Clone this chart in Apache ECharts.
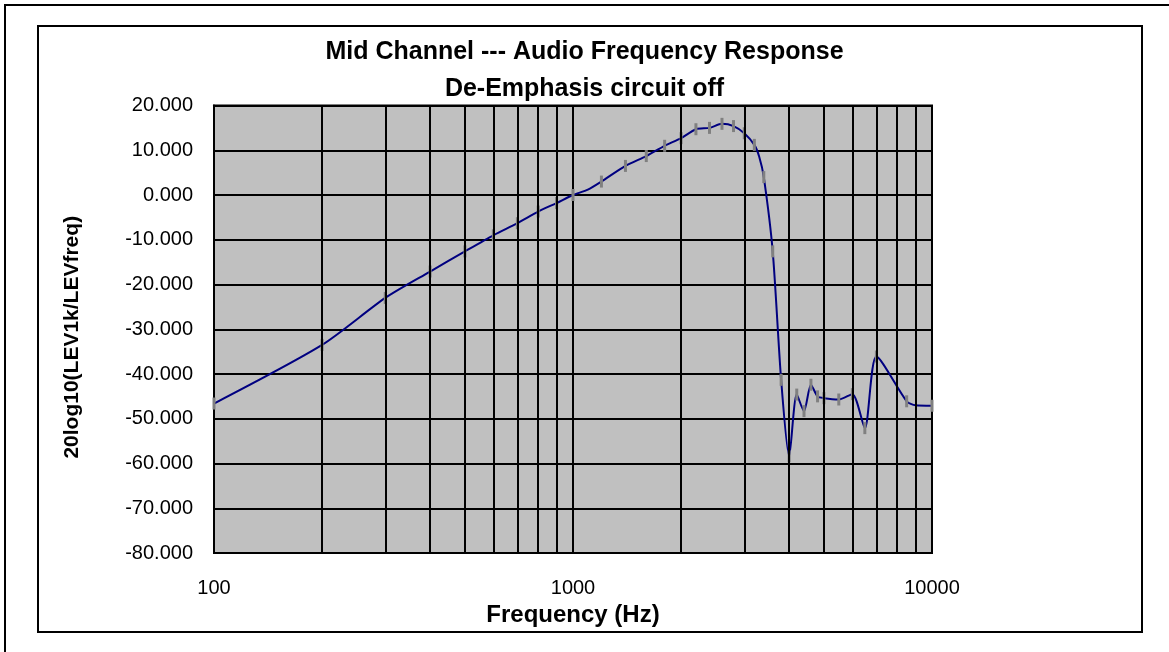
<!DOCTYPE html>
<html>
<head>
<meta charset="utf-8">
<script src="https://cdn.jsdelivr.net/npm/echarts@6/dist/echarts.min.js"></script>
<style>
html,body{margin:0;padding:0;background:#fff;}
#chart{width:1169px;height:652px;}
</style>
</head>
<body>
<div id="chart"></div>
<script>
const freqHz = [100, 200, 300, 400, 500, 600, 700, 800, 900, 1000, 1100, 1200, 1400, 1600, 1800, 2000, 2200, 2400, 2600, 2800, 3000, 3200, 3300, 3400, 3600, 3800, 4000, 4200, 4400, 4600, 4800, 5000, 5500, 6000, 6500, 7000, 8500, 9000, 10000];
const levelDb = [-46.6, -33.5, -23.0, -17.1, -12.6, -9.0, -6.3, -3.7, -1.8, 0.0, 1.2, 3.0, 6.5, 8.7, 11.0, 12.7, 14.7, 15.0, 15.9, 15.4, 13.8, 11.2, 8.6, 4.0, -12.6, -41.3, -58.4, -44.6, -48.3, -42.4, -45.0, -45.4, -45.7, -44.5, -52.1, -36.1, -46.1, -47.0, -47.1];
const hasMarker = [1,1,1,1,1,1,1,1,1,1,0,1,1,1,1,1,1,1,1,1,1,1,0,1,1,1,1,1,1,1,1,1,1,1,1,1,1,0,1];
const minorGridFreqs = [200, 300, 400, 500, 600, 700, 800, 900, 2000, 3000, 4000, 5000, 6000, 7000, 8000, 9000];
const yTicks = { min: -80, max: 20, interval: 10 };
const titleText = 'Mid Channel --- Audio Frequency Response\nDe-Emphasis circuit off';
const xName = 'Frequency (Hz)';
const yName = '20log10(LEV1k/LEVfreq)';

const FONT = '"Liberation Sans", Arial, sans-serif';
const chart = echarts.init(document.getElementById('chart'), null, { renderer: 'canvas' });
const points = freqHz.map((f, i) => [f, levelDb[i]]);

chart.setOption({
  animation: false,
  backgroundColor: '#ffffff',
  graphic: [
    { type: 'rect', shape: { x: 5, y: 5, width: 1300, height: 800 }, style: { fill: 'none', stroke: '#000', lineWidth: 2 }, silent: true, z: -10 },
    { type: 'rect', shape: { x: 38, y: 26, width: 1104, height: 606 }, style: { fill: 'none', stroke: '#000', lineWidth: 2 }, silent: true, z: -10 }
  ],
  title: {
    text: titleText,
    left: 'center',
    top: 29,
    textStyle: { fontFamily: FONT, fontSize: 25, fontWeight: 'bold', color: '#000', lineHeight: 37 }
  },
  grid: {
    left: 214, right: 237, top: 105.5, bottom: 99,
    show: true, backgroundColor: '#C0C0C0', borderColor: '#000', borderWidth: 2
  },
  xAxis: {
    type: 'log', logBase: 10, min: 100, max: 10000,
    name: xName, nameLocation: 'middle', nameGap: 44,
    nameTextStyle: { fontFamily: FONT, fontSize: 24, fontWeight: 'bold', color: '#000' },
    axisLine: { show: true, lineStyle: { color: '#000', width: 2 } },
    axisTick: { show: true, length: 6, inside: false, lineStyle: { color: '#000', width: 2 } },
    axisLabel: { fontFamily: FONT, fontSize: 20, color: '#000', margin: 25, formatter: v => String(Math.round(v)) },
    splitLine: { show: true, lineStyle: { color: '#000', width: 2 } },
    minorTick: { show: false }, minorSplitLine: { show: false }
  },
  yAxis: {
    type: 'value', min: yTicks.min, max: yTicks.max, interval: yTicks.interval,
    name: yName, nameLocation: 'middle', nameGap: 131, nameRotate: 90,
    nameTextStyle: { fontFamily: FONT, fontSize: 21, fontWeight: 'bold', color: '#000', padding: [0, 16, 0, 0] },
    axisLine: { show: true, lineStyle: { color: '#000', width: 2 } },
    axisTick: { show: false },
    axisLabel: { fontFamily: FONT, fontSize: 20, color: '#000', margin: 21, formatter: v => v.toFixed(3) },
    splitLine: { show: true, lineStyle: { color: '#000', width: 2 } }
  },
  series: [
    {
      type: 'line', data: [], z: 1, silent: true,
      markLine: {
        silent: true, symbol: 'none', animation: false,
        label: { show: false },
        lineStyle: { color: '#000', width: 2, type: 'solid' },
        emphasis: { disabled: true },
        data: minorGridFreqs.map(f => ({ xAxis: f }))
      }
    },
    {
      type: 'line', data: points, z: 3,
      smooth: 0.25,
      showSymbol: true, showAllSymbol: true,
      symbol: 'rect',
      symbolSize: (val, params) => hasMarker[params.dataIndex] ? [3, 12] : 0,
      itemStyle: { color: '#808080', borderWidth: 0 },
      lineStyle: { color: '#000080', width: 2 },
      emphasis: { disabled: true }
    }
  ]
});
</script>
</body>
</html>
